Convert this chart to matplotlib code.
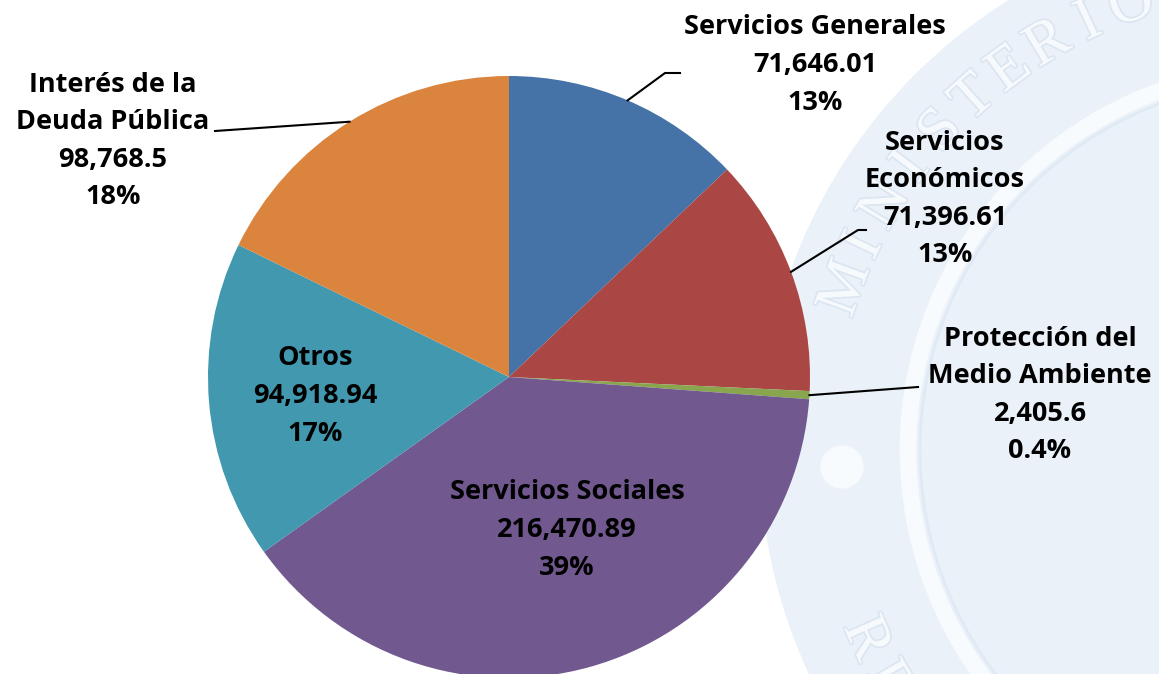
import matplotlib.pyplot as plt
import matplotlib.patheffects as pe
import numpy as np
from matplotlib.patches import Circle

plt.rcParams['font.family'] = ['Open Sans', 'DejaVu Sans']

labels = ["Servicios Generales", "Servicios\nEconómicos", "Protección del\nMedio Ambiente",
          "Servicios Sociales", "Otros", "Interés de la\nDeuda Pública"]
values = [71646.01, 71396.61, 2405.6, 216470.89, 94918.94, 98768.5]
value_text = ["71,646.01", "71,396.61", "2,405.6", "216,470.89", "94,918.94", "98,768.5"]
pct_text = ["13%", "13%", "0.4%", "39%", "17%", "18%"]
colors = ["#4572A7", "#AA4643", "#89A54E", "#71588F", "#4198AF", "#DB843D"]

W, H = 1159, 674
fig = plt.figure(figsize=(W / 100, H / 100), dpi=100)
ax = fig.add_axes([0, 0, 1, 1])

# faint seal watermark on the right
sc = (1290, H - 450)
ax.add_patch(Circle(sc, 530, color="#eaf1f9", zorder=0))
ax.add_patch(Circle(sc, 382, fill=False, ec="#f8fbfd", lw=12, zorder=0))
ax.add_patch(Circle(sc, 370, fill=False, ec="#e0eaf4", lw=2, zorder=0))
ax.add_patch(Circle((sc[0] - 448, sc[1] - 17), 21, color="#f8fbfd", zorder=0))
stroke = [pe.withStroke(linewidth=2.5, foreground="#dbe6f1")]
word = "MINISTERIO"
for i, ch in enumerate(word):
    a = np.deg2rad(160 - i * 5.6)
    ax.text(sc[0] + 472 * np.cos(a), sc[1] + 472 * np.sin(a), ch, fontsize=44,
            family="Liberation Serif", color="#f7fafd", rotation=np.rad2deg(a) - 90,
            ha="center", va="center", zorder=0, path_effects=stroke)
for i, ch in enumerate("RE"):
    a = np.deg2rad(204 + i * 6)
    ax.text(sc[0] + 465 * np.cos(a), sc[1] + 465 * np.sin(a), ch, fontsize=44,
            family="Liberation Serif", color="#f7fafd", rotation=np.rad2deg(a) + 90,
            ha="center", va="center", zorder=0, path_effects=stroke)

center = (509, H - 377)
radius = 301
wedges, _ = ax.pie(values, colors=colors, startangle=90, counterclock=False,
                   center=center, radius=radius, frame=True,
                   wedgeprops=dict(linewidth=0))
ax.set_xlim(0, W)
ax.set_ylim(0, H)
ax.set_aspect('equal')
ax.axis('off')

fs = 19.5
# label centres (pixel, y down) and leader line elbows
pos = [(815, 65), (945, 199), (1040, 395), (567, 530), (315, 396), (113, 141)]
elbows = {0: [(665, 73), (680, 73)], 1: [(858, 230), (866, 230)],
          2: [(918, 387), (918, 387)], 5: [(215, 131), (215, 131)]}

for i, w in enumerate(wedges):
    txt = labels[i] + "\n" + value_text[i] + "\n" + pct_text[i]
    ax.text(pos[i][0], H - pos[i][1], txt, ha="center", va="center", fontsize=fs,
            fontweight="bold", linespacing=1.58, zorder=5)
    if i in elbows:
        mid = np.deg2rad((w.theta1 + w.theta2) / 2)
        x0 = center[0] + radius * np.cos(mid)
        y0 = center[1] + radius * np.sin(mid)
        (x1, y1), (x2, y2) = elbows[i]
        ax.plot([x0, x1, x2], [y0, H - y1, H - y2], color="black", lw=1.5, zorder=4)

fig.savefig("out.png", dpi=100, facecolor="white")
